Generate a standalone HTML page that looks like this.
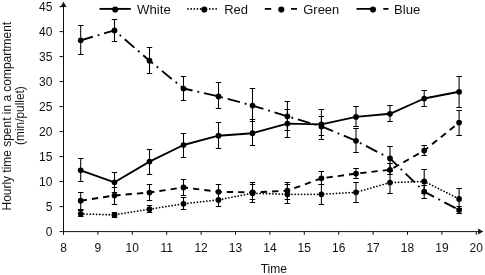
<!DOCTYPE html>
<html><head><meta charset="utf-8"><title>Chart</title>
<style>html,body{margin:0;padding:0;background:#fff;}svg{display:block}text{font-family:"Liberation Sans",Arial,sans-serif;font-size:12px;fill:#111}</style></head>
<body>
<svg width="485" height="275" viewBox="0 0 485 275">
<rect width="485" height="275" fill="#fff"/>
<g stroke="#111" stroke-width="1" fill="none">
<line x1="63.5" y1="4" x2="63.5" y2="232.1"/>
<line x1="63.0" y1="231.6" x2="481" y2="231.6"/>
<line x1="59.5" y1="231.6" x2="63.5" y2="231.6"/>
<line x1="59.5" y1="206.6" x2="63.5" y2="206.6"/>
<line x1="59.5" y1="181.6" x2="63.5" y2="181.6"/>
<line x1="59.5" y1="156.6" x2="63.5" y2="156.6"/>
<line x1="59.5" y1="131.6" x2="63.5" y2="131.6"/>
<line x1="59.5" y1="106.6" x2="63.5" y2="106.6"/>
<line x1="59.5" y1="81.6" x2="63.5" y2="81.6"/>
<line x1="59.5" y1="56.6" x2="63.5" y2="56.6"/>
<line x1="59.5" y1="31.6" x2="63.5" y2="31.6"/>
<line x1="59.5" y1="6.6" x2="63.5" y2="6.6"/>
<line x1="63.5" y1="231.6" x2="63.5" y2="234.79999999999998"/>
<line x1="97.9" y1="231.6" x2="97.9" y2="234.79999999999998"/>
<line x1="132.3" y1="231.6" x2="132.3" y2="234.79999999999998"/>
<line x1="166.7" y1="231.6" x2="166.7" y2="234.79999999999998"/>
<line x1="201.1" y1="231.6" x2="201.1" y2="234.79999999999998"/>
<line x1="235.5" y1="231.6" x2="235.5" y2="234.79999999999998"/>
<line x1="269.9" y1="231.6" x2="269.9" y2="234.79999999999998"/>
<line x1="304.3" y1="231.6" x2="304.3" y2="234.79999999999998"/>
<line x1="338.7" y1="231.6" x2="338.7" y2="234.79999999999998"/>
<line x1="373.1" y1="231.6" x2="373.1" y2="234.79999999999998"/>
<line x1="407.5" y1="231.6" x2="407.5" y2="234.79999999999998"/>
<line x1="441.9" y1="231.6" x2="441.9" y2="234.79999999999998"/>
<line x1="476.3" y1="231.6" x2="476.3" y2="234.79999999999998"/>
</g>
<path d="M63.5 1.8 L66.6 7.2 L63.5 6.7 L60.4 7.2 Z" fill="#111"/>
<path d="M483.3 231.6 L477.8 228.6 L478.4 231.6 L477.8 234.6 Z" fill="#111"/>
<g text-anchor="end" style="font-size:11.2px">
<text x="52.4" y="235.7">0</text>
<text x="52.4" y="210.7">5</text>
<text x="52.4" y="185.7">10</text>
<text x="52.4" y="160.7">15</text>
<text x="52.4" y="135.7">20</text>
<text x="52.4" y="110.7">25</text>
<text x="52.4" y="85.7">30</text>
<text x="52.4" y="60.7">35</text>
<text x="52.4" y="35.7">40</text>
<text x="52.4" y="10.7">45</text>
</g>
<g text-anchor="middle" style="font-size:11.2px">
<text x="63.5" y="251.7">8</text>
<text x="97.9" y="251.7">9</text>
<text x="132.3" y="251.7">10</text>
<text x="166.7" y="251.7">11</text>
<text x="201.1" y="251.7">12</text>
<text x="235.5" y="251.7">13</text>
<text x="269.9" y="251.7">14</text>
<text x="304.3" y="251.7">15</text>
<text x="338.7" y="251.7">16</text>
<text x="373.1" y="251.7">17</text>
<text x="407.5" y="251.7">18</text>
<text x="441.9" y="251.7">19</text>
<text x="476.3" y="251.7">20</text>
</g>
<text x="273.8" y="273" text-anchor="middle">Time</text>
<text transform="translate(10.5 116.2) rotate(-90)" text-anchor="middle" textLength="188.6" lengthAdjust="spacingAndGlyphs">Hourly time spent in a compartment</text>
<text transform="translate(24.2 115.6) rotate(-90)" text-anchor="middle" textLength="58.7" lengthAdjust="spacingAndGlyphs">(min/pullet)</text>
<g stroke="#000" stroke-width="1.05" fill="none">
<path d="M80.7 158.5 V181.5 M78.0 158.5 H83.5 M78.0 181.5 H83.5"/>
<path d="M114.5 172.5 V192.5 M111.8 172.5 H117.2 M111.8 192.5 H117.2"/>
<path d="M149.5 149.5 V174.5 M146.8 149.5 H152.2 M146.8 174.5 H152.2"/>
<path d="M183.5 133.5 V157.5 M180.8 133.5 H186.2 M180.8 157.5 H186.2"/>
<path d="M218.5 122.5 V148.5 M215.8 122.5 H221.2 M215.8 148.5 H221.2"/>
<path d="M252.5 119.5 V145.5 M249.8 119.5 H255.2 M249.8 145.5 H255.2"/>
<path d="M287.4 109.5 V137.5 M284.6 109.5 H290.1 M284.6 137.5 H290.1"/>
<path d="M321.4 109.5 V139.5 M318.6 109.5 H324.1 M318.6 139.5 H324.1"/>
<path d="M356.0 106.5 V126.5 M353.2 106.5 H358.8 M353.2 126.5 H358.8"/>
<path d="M390.0 105.5 V121.5 M387.2 105.5 H392.8 M387.2 121.5 H392.8"/>
<path d="M424.2 90.5 V106.5 M421.4 90.5 H426.9 M421.4 106.5 H426.9"/>
<path d="M459.1 76.5 V107.5 M456.4 76.5 H461.9 M456.4 107.5 H461.9"/>
</g>
<g stroke="#000" stroke-width="1.05" fill="none">
<path d="M80.7 210.5 V216.5 M78.0 210.5 H83.5 M78.0 216.5 H83.5"/>
<path d="M114.5 212.5 V217.5 M111.8 212.5 H117.2 M111.8 217.5 H117.2"/>
<path d="M149.5 205.5 V212.5 M146.8 205.5 H152.2 M146.8 212.5 H152.2"/>
<path d="M183.5 197.5 V209.5 M180.8 197.5 H186.2 M180.8 209.5 H186.2"/>
<path d="M218.5 192.5 V206.5 M215.8 192.5 H221.2 M215.8 206.5 H221.2"/>
<path d="M252.5 182.5 V202.5 M249.8 182.5 H255.2 M249.8 202.5 H255.2"/>
<path d="M287.4 184.5 V203.5 M284.6 184.5 H290.1 M284.6 203.5 H290.1"/>
<path d="M321.4 184.5 V204.5 M318.6 184.5 H324.1 M318.6 204.5 H324.1"/>
<path d="M356.0 182.5 V202.5 M353.2 182.5 H358.8 M353.2 202.5 H358.8"/>
<path d="M390.0 171.5 V193.5 M387.2 171.5 H392.8 M387.2 193.5 H392.8"/>
<path d="M424.2 169.5 V193.5 M421.4 169.5 H426.9 M421.4 193.5 H426.9"/>
<path d="M459.1 188.5 V208.5 M456.4 188.5 H461.9 M456.4 208.5 H461.9"/>
</g>
<g stroke="#000" stroke-width="1.05" fill="none">
<path d="M80.7 192.5 V209.5 M78.0 192.5 H83.5 M78.0 209.5 H83.5"/>
<path d="M114.5 187.5 V204.5 M111.8 187.5 H117.2 M111.8 204.5 H117.2"/>
<path d="M149.5 184.5 V200.5 M146.8 184.5 H152.2 M146.8 200.5 H152.2"/>
<path d="M183.5 179.5 V195.5 M180.8 179.5 H186.2 M180.8 195.5 H186.2"/>
<path d="M218.5 184.5 V199.5 M215.8 184.5 H221.2 M215.8 199.5 H221.2"/>
<path d="M252.5 184.5 V199.5 M249.8 184.5 H255.2 M249.8 199.5 H255.2"/>
<path d="M287.4 182.5 V199.5 M284.6 182.5 H290.1 M284.6 199.5 H290.1"/>
<path d="M321.4 171.5 V184.5 M318.6 171.5 H324.1 M318.6 184.5 H324.1"/>
<path d="M356.0 168.5 V178.5 M353.2 168.5 H358.8 M353.2 178.5 H358.8"/>
<path d="M390.0 163.5 V174.5 M387.2 163.5 H392.8 M387.2 174.5 H392.8"/>
<path d="M424.2 145.5 V155.5 M421.4 145.5 H426.9 M421.4 155.5 H426.9"/>
<path d="M459.1 110.5 V135.5 M456.4 110.5 H461.9 M456.4 135.5 H461.9"/>
</g>
<g stroke="#000" stroke-width="1.05" fill="none">
<path d="M80.7 25.5 V54.5 M78.0 25.5 H83.5 M78.0 54.5 H83.5"/>
<path d="M114.5 19.5 V41.5 M111.8 19.5 H117.2 M111.8 41.5 H117.2"/>
<path d="M149.5 47.5 V73.5 M146.8 47.5 H152.2 M146.8 73.5 H152.2"/>
<path d="M183.5 76.5 V100.5 M180.8 76.5 H186.2 M180.8 100.5 H186.2"/>
<path d="M218.5 82.5 V108.5 M215.8 82.5 H221.2 M215.8 108.5 H221.2"/>
<path d="M252.5 88.5 V121.5 M249.8 88.5 H255.2 M249.8 121.5 H255.2"/>
<path d="M287.4 101.5 V130.5 M284.6 101.5 H290.1 M284.6 130.5 H290.1"/>
<path d="M321.4 116.5 V135.5 M318.6 116.5 H324.1 M318.6 135.5 H324.1"/>
<path d="M356.0 128.5 V152.5 M353.2 128.5 H358.8 M353.2 152.5 H358.8"/>
<path d="M390.0 146.5 V170.5 M387.2 146.5 H392.8 M387.2 170.5 H392.8"/>
<path d="M424.2 185.5 V198.5 M421.4 185.5 H426.9 M421.4 198.5 H426.9"/>
<path d="M459.1 206.5 V213.5 M456.4 206.5 H461.9 M456.4 213.5 H461.9"/>
</g>
<polyline points="80.7,170.3 114.5,182.3 149.5,161.6 183.5,145.0 218.5,135.7 252.5,133.2 287.4,123.6 321.4,124.4 356.0,116.9 390.0,113.8 424.2,98.5 459.1,91.8" fill="none" stroke="#000" stroke-width="1.9" stroke-linejoin="round"/>
<g fill="#000"><circle cx="80.70" cy="170.30" r="2.85"/><circle cx="114.50" cy="182.30" r="2.85"/><circle cx="149.50" cy="161.60" r="2.85"/><circle cx="183.50" cy="145.00" r="2.85"/><circle cx="218.50" cy="135.70" r="2.85"/><circle cx="252.50" cy="133.20" r="2.85"/><circle cx="287.40" cy="123.60" r="2.85"/><circle cx="321.40" cy="124.40" r="2.85"/><circle cx="356.00" cy="116.90" r="2.85"/><circle cx="390.00" cy="113.80" r="2.85"/><circle cx="424.20" cy="98.50" r="2.85"/><circle cx="459.10" cy="91.80" r="2.85"/></g>
<polyline points="80.7,213.8 114.5,214.9 149.5,209.2 183.5,203.8 218.5,199.9 252.5,193.2 287.4,194.3 321.4,194.3 356.0,192.3 390.0,182.6 424.2,181.4 459.1,198.9" fill="none" stroke="#000" stroke-width="1.75" stroke-dasharray="0.01 3.17" stroke-linecap="round" stroke-linejoin="round"/>
<g fill="#000"><circle cx="80.70" cy="213.80" r="2.85"/><circle cx="114.50" cy="214.90" r="2.85"/><circle cx="149.50" cy="209.20" r="2.85"/><circle cx="183.50" cy="203.80" r="2.85"/><circle cx="218.50" cy="199.90" r="2.85"/><circle cx="252.50" cy="193.20" r="2.85"/><circle cx="287.40" cy="194.30" r="2.85"/><circle cx="321.40" cy="194.30" r="2.85"/><circle cx="356.00" cy="192.30" r="2.85"/><circle cx="390.00" cy="182.60" r="2.85"/><circle cx="424.20" cy="181.40" r="2.85"/><circle cx="459.10" cy="198.90" r="2.85"/></g>
<polyline points="80.7,200.7 114.5,195.5 149.5,192.5 183.5,187.4 218.5,191.8 252.5,192.4 287.4,190.7 321.4,178.3 356.0,173.6 390.0,169.8 424.2,150.6 459.1,122.6" fill="none" stroke="#000" stroke-width="1.9" stroke-dasharray="6.3 5.03" stroke-linejoin="round"/>
<g fill="#000"><circle cx="80.70" cy="200.70" r="2.85"/><circle cx="114.50" cy="195.50" r="2.85"/><circle cx="149.50" cy="192.50" r="2.85"/><circle cx="183.50" cy="187.40" r="2.85"/><circle cx="218.50" cy="191.80" r="2.85"/><circle cx="252.50" cy="192.40" r="2.85"/><circle cx="287.40" cy="190.70" r="2.85"/><circle cx="321.40" cy="178.30" r="2.85"/><circle cx="356.00" cy="173.60" r="2.85"/><circle cx="390.00" cy="169.80" r="2.85"/><circle cx="424.20" cy="150.60" r="2.85"/><circle cx="459.10" cy="122.60" r="2.85"/></g>
<polyline points="80.7,40.3 114.5,30.4 149.5,60.7 183.5,88.5 218.5,96.4 252.5,105.6 287.4,116.3 321.4,126.4 356.0,140.8 390.0,158.4 424.2,191.7 459.1,210" fill="none" stroke="#000" stroke-width="1.9" stroke-dasharray="12.7 4.95 1.8 4.95" stroke-linejoin="round"/>
<g fill="#000"><circle cx="80.70" cy="40.30" r="2.85"/><circle cx="114.50" cy="30.40" r="2.85"/><circle cx="149.50" cy="60.70" r="2.85"/><circle cx="183.50" cy="88.50" r="2.85"/><circle cx="218.50" cy="96.40" r="2.85"/><circle cx="252.50" cy="105.60" r="2.85"/><circle cx="287.40" cy="116.30" r="2.85"/><circle cx="321.40" cy="126.40" r="2.85"/><circle cx="356.00" cy="140.80" r="2.85"/><circle cx="390.00" cy="158.40" r="2.85"/><circle cx="424.20" cy="191.70" r="2.85"/><circle cx="459.10" cy="210.00" r="2.85"/></g>
<g stroke="#000" stroke-width="1.9" fill="none">
<line x1="99.5" y1="8.9" x2="130.8" y2="8.9"/>
<path d="M188 8.9 H201 M209.8 8.9 H219" stroke-dasharray="0.01 3.15" stroke-linecap="round" stroke-width="1.75"/>
<path d="M264.8 8.9 H271.2 M291 8.9 H297"/>
<path d="M356.5 8.9 H373 M383.3 8.9 H388.5"/>
</g>
<g fill="#000"><circle cx="115.20" cy="9.60" r="3.05"/><circle cx="204.30" cy="9.60" r="3.05"/><circle cx="281.30" cy="9.60" r="3.05"/><circle cx="373.00" cy="9.60" r="3.05"/></g>
<g style="fill:#484848;font-size:13.6px">
<text x="137.1" y="14.1" textLength="33.7" lengthAdjust="spacingAndGlyphs">White</text>
<text x="224.2" y="14.1" textLength="23.9" lengthAdjust="spacingAndGlyphs">Red</text>
<text x="303.3" y="14.1" textLength="35.9" lengthAdjust="spacingAndGlyphs">Green</text>
<text x="394" y="14.1" textLength="26.2" lengthAdjust="spacingAndGlyphs">Blue</text>
</g>
</svg>
</body></html>
